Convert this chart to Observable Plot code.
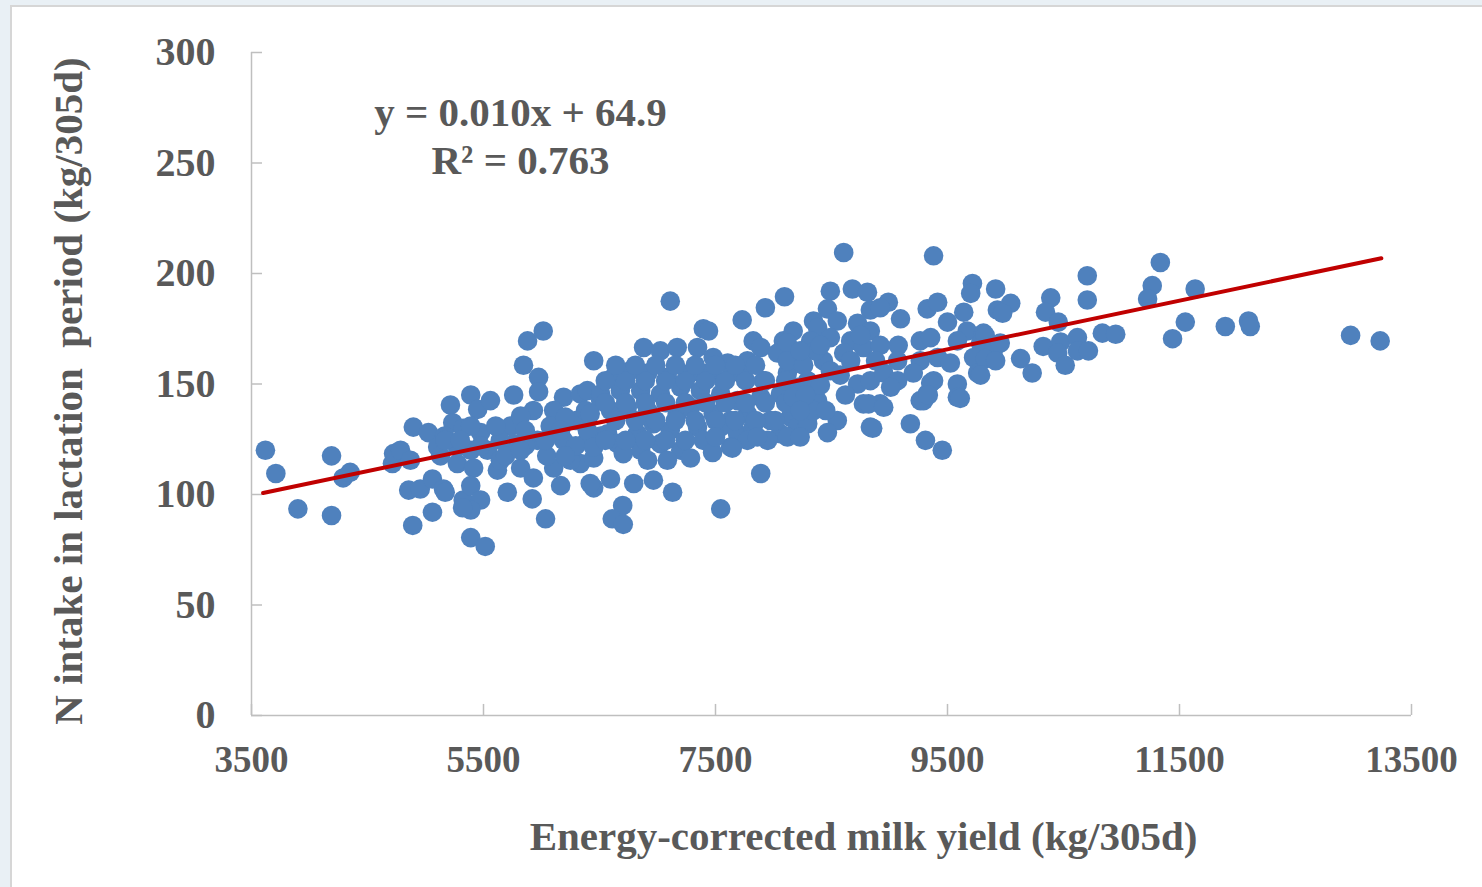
<!DOCTYPE html>
<html><head><meta charset="utf-8">
<script src="https://cdn.jsdelivr.net/npm/d3@7"></script>
<script src="https://cdn.jsdelivr.net/npm/@observablehq/plot@0.6"></script>
<style>
html,body{margin:0;padding:0;width:1482px;height:887px;overflow:hidden;background:#e9f0f5;}
#panel{position:absolute;left:10px;top:5px;width:1480px;height:890px;background:#fff;border:2px solid #d6d6d6;box-sizing:border-box;}
#chart{position:absolute;left:0;top:0;}
</style></head><body><div id="panel"></div><div id="chart"></div>
<script>
// [energy-corrected milk yield (kg/305d), N intake in lactation period (kg/305d)]
const cows = [
[3620,120],[3710,109.5],[3900,93.5],[4190,117.5],[4190,90.5],[4290,107.5],[4350,110],[4715,114],[4725,118.5],[4785,120],
[4870,115.5],[4855,102],[4955,102.5],[5060,107],[5155,102.5],[5060,92],[4890,86],[5390,80.5],[5515,76.5],[4895,130.5],
[5025,128],[5215,140.5],[5390,145],[5450,138.5],[5560,142.5],[5880,169.5],[6015,174],[5845,158.5],[5975,153],[5975,146.5],
[5760,145],[5930,138],[6190,144],[6335,145.5],[6450,160.5],[5105,121.5],[5235,132.5],[5325,130],[5475,128],[5735,131],
[6105,138],[5275,121.5],[5535,120],[5760,123],[5965,124.5],[6190,124.5],[6395,124.5],[5275,114],[5415,112],[5620,111],
[5820,112],[5930,107.5],[6105,112],[6335,114],[6450,116.5],[5170,101],[5325,97.5],[5390,104],[5475,97.5],[5705,101],
[5920,98],[6250,115.5],[6450,103],[6035,89],[5390,93],[5320,94],
[5130,117.5],[5390,120],[5645,124.5],[5860,122],[6075,131],[6295,133.5],[5605,131],[5820,135.5],[6045,117.5],[5645,115.5],
[6205,135],[6380,138],[6165,104],[6510,142.5],[5390,131],[5165,126.5],
[5170,124.5],[5475,122],[5690,117.5],[5860,129],[6035,124.5],[6165,129],[6295,122],[5820,120],[6205,117.5],[6510,126.5],[5300,124.5],
[7110,187.5],[7395,175],[7440,174],[7730,179],[7930,184.5],[8095,189.5],[7825,169.5],[7890,166.5],[8085,169.5],[8170,174],
[6880,166.5],[7025,165],[7170,166.5],[7345,166.5],[7480,162],[7605,159.5],[7775,160.5],[8035,164],[6620,153],[6765,156],
[6915,155],[7085,153],[7285,155],[7430,155],[7570,151.5],[7715,155],[7915,151.5],[8120,155],[8205,148.5],[6395,147],
[6510,145.5],[6680,147],[6855,147],[7025,145.5],[7200,148.5],[7370,147],[7545,145.5],[7690,142.5],[7890,144],[8060,145.5],
[8170,139.5],[6420,136.5],[6595,138],[6740,139.5],[6915,138],[7170,136.5],[7285,139.5],[7480,136.5],[7630,133.5],[7775,136.5],
[7975,133.5],[8145,135],[6395,129],[6570,127.5],[6825,127.5],[6965,132],[7110,129],[7345,130.5],[7545,130.5],[7690,127.5],
[7825,130.5],[8060,127.5],[8205,130.5],[6450,121.5],[6655,123],[6855,120],[7025,123],[7200,120],[7395,124.5],[7630,121.5],
[7775,124.5],[7950,124.5],[8120,126],[6705,118.5],[6915,115.5],[7085,115.5],[7285,116.5],[7475,119],[7645,121],[6420,105],
[6595,107],[6795,105],[6965,106.5],[7130,101],[7890,109.5],[7545,93.5],[6700,95],[6610,89],[6705,86.5],
[6550,151.5],[6725,151.5],[6895,151.5],[7070,151.5],[7240,151.5],[7415,151.5],[7585,151.5],[7760,151.5],[7930,151.5],[8105,151.5],
[6640,158.5],[6810,158.5],[6985,158.5],[7155,158.5],[7325,158.5],[7500,158.5],[7670,158.5],[7845,158.5],
[6550,141.5],[6725,141.5],[6895,141.5],[7070,141.5],[7240,141.5],[7415,141.5],[7585,141.5],[7760,141.5],[7930,141.5],[8105,141.5],
[6640,133.5],[6810,133.5],[6985,133.5],[7155,133.5],[7325,133.5],[7500,133.5],[7670,133.5],[7845,133.5],[8015,133.5],
[6550,124.5],[6725,124.5],[6895,124.5],[7070,124.5],[7240,124.5],[7500,126],[7860,126],
[8605,209.5],[9380,208],[8490,192],[8680,193],[8810,191.5],[8990,187],[9715,195.5],[9700,191],[9915,193],[8465,184],
[8345,178.5],[8835,183.5],[8920,184.5],[9095,179.5],[9325,184],[9415,187],[9640,182.5],[9930,183.5],[8380,175.5],[8550,178.5],
[8725,177.5],[8835,174],[9500,178],[9670,174],[9810,173],[8120,168.5],[8320,169.5],[8490,171],[8665,169.5],[8775,166.5],
[9075,167.5],[9265,169.5],[9355,171],[9585,169.5],[9785,168.5],[9895,165],[8120,160.5],[8430,160.5],[8605,164],[9070,160.5],
[9265,160.5],[9415,162],[9525,159.5],[9725,162],[8295,151.5],[8490,156],[8725,150],[8835,151.5],[8950,155],[9070,151.5],
[9205,155],[9380,151.5],[9585,150],[9760,155],[8170,144],[8380,142.5],[8775,141],[8920,141],[9010,148.5],[9265,142.5],
[9325,145.5],[9585,144],[8295,132],[8345,138],[8550,133.5],[8465,128],[8835,130.5],[9180,132],[9310,124.5],[9455,120],
[8230,126],[8405,149.5],[8620,145],[8575,154],[8360,165],[8665,160.5],[8260,158.5],[8750,172],[8920,167.5],[8880,160.5],
[9610,143.5],[9355,150.5],[9295,142.5],[9335,145],[8855,130],[8820,141],[8950,139.5],
[8230,165],[8405,167.5],[8275,145],[8450,138],[8230,138],
[11335,205],[10705,199],[10705,188],[11265,194.5],[11225,188.5],[11635,193],[10045,186.5],[9975,182],[10390,189],[10345,182.5],
[10455,178],[9825,172],[9955,168.5],[9825,161.5],[9915,160.5],[10130,161.5],[10230,155],[9785,154],[10325,167],[10475,169],
[10450,164],[10515,158.5],[10620,171],[10620,165],[10715,165],[10835,173],[10950,172.5],[11440,170.5],[11550,178],[11895,176],
[12095,178.5],[12110,176],[12975,172],[13230,169.5]
];
const xTicks = [3500, 5500, 7500, 9500, 11500, 13500];
const yTicks = [0, 50, 100, 150, 200, 250, 300];
const trendRange = [3600, 13240];
const trendSlope = 0.01102;
const trendIntercept = 61.0;
const equationLines = ["y = 0.010x + 64.9", "R² = 0.763"];
const xTitle = "Energy-corrected milk yield (kg/305d)";
const yTitle = "N intake in lactation\u00a0 period (kg/305d)";

const font = "'Liberation Serif','Times New Roman',serif";
const grey = "#595959", axisGrey = "#bfbfbf";
const trend = trendRange.map(x => [x, trendIntercept + trendSlope * x]);

const chart = Plot.plot({
  width: 1482, height: 887,
  marginLeft: 251, marginRight: 71, marginTop: 52, marginBottom: 172,
  style: {background: "transparent", fontFamily: font, fontWeight: "bold", color: grey},
  x: {domain: [3500, 13500]},
  y: {domain: [0, 300]},
  marks: [
    Plot.axisX(xTicks, {tickSize: 0, tickPadding: 30, fontSize: 37, label: null, tickFormat: d => String(d)}),
    Plot.axisY(yTicks, {tickSize: 0, tickPadding: 36, fontSize: 40, label: null, tickFormat: d => String(d)}),
    Plot.ruleY([0], {stroke: axisGrey, strokeWidth: 1.5}),
    Plot.ruleX([3500], {stroke: axisGrey, strokeWidth: 1.5}),
    Plot.ruleX(xTicks, {y1: 0, y2: 5, stroke: axisGrey, strokeWidth: 1.5}),
    Plot.ruleY(yTicks, {x1: 3500, x2: 3595, stroke: axisGrey, strokeWidth: 1.5}),
    Plot.dot(cows, {x: d => d[0], y: d => d[1], r: 9.8, fill: "#4f81bd"}),
    Plot.line(trend, {stroke: "#c00000", strokeWidth: 4}),
    Plot.text([equationLines[0]], {frameAnchor: "top-left", textAnchor: "middle", dx: 269, dy: 44, fontSize: 41, fill: grey}),
    Plot.text([equationLines[1]], {frameAnchor: "top-left", textAnchor: "middle", dx: 269, dy: 92, fontSize: 41, fill: grey}),
    Plot.text([xTitle], {frameAnchor: "bottom", textAnchor: "middle", dx: 32, dy: 134, fontSize: 41, fill: grey}),
    Plot.text([yTitle], {frameAnchor: "left", textAnchor: "middle", rotate: -90, dx: -183, dy: 7, fontSize: 41, fill: grey})
  ]
});
document.getElementById("chart").appendChild(chart);
</script></body></html>
